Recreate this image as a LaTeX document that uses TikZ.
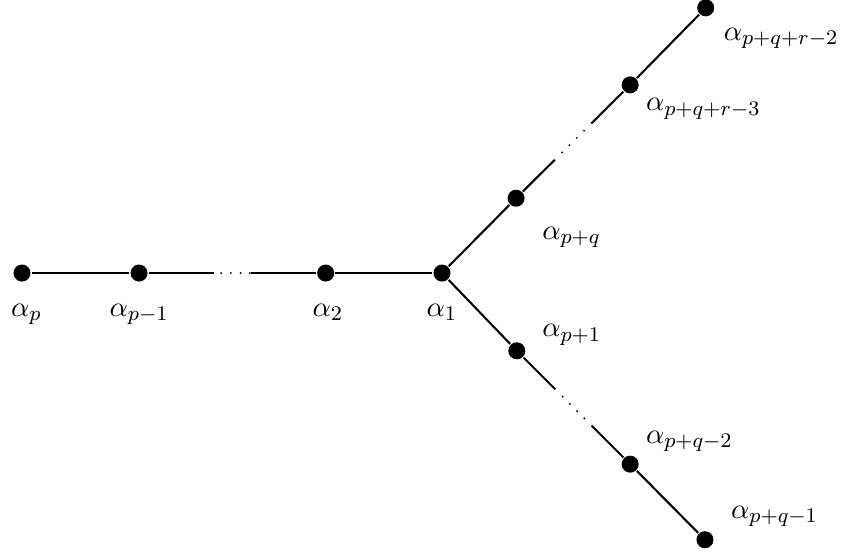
\documentclass[tikz,border=0pt]{standalone}
\usetikzlibrary{calc}
\tikzset{
  every picture/.style={line width=0.8pt},
  vertex/.style={circle, fill=black, inner sep=0pt, minimum size=0.23cm},
  root/.style={anchor=base west, inner sep=0pt, font=\fontsize{11}{13}\selectfont},
  gapdot/.style={fill=black},
}
\begin{document}
\begin{tikzpicture}
  \useasboundingbox (-5.967,-3.753) rectangle (5.40,3.686);
  % the long arm
  \node[vertex] (ap) at (-5.67,0) {};
  \node[vertex] (apm) at (-4.09,0) {};
  \node[vertex] (atwo) at (-1.57,0) {};
  \node[vertex] (aone) at (0,0) {};
  % upper arm
  \node[vertex] (apq) at (1.00,1.01) {};
  \node[vertex] (apqrb) at (2.54,2.54) {};
  \node[vertex] (apqra) at (3.56,3.58) {};
  % lower arm
  \node[vertex] (apone) at (1.01,-1.05) {};
  \node[vertex] (apqb) at (2.54,-2.58) {};
  \node[vertex] (apqa) at (3.55,-3.60) {};
  % where the dots go
  \coordinate (hs) at ($(apm)!0.40!(atwo)$);
  \coordinate (he) at ($(apm)!0.60!(atwo)$);
  \coordinate (us) at ($(apq)!0.34!(apqrb)$);
  \coordinate (ue) at ($(apq)!0.66!(apqrb)$);
  \coordinate (ls) at ($(apone)!0.34!(apqb)$);
  \coordinate (le) at ($(apone)!0.66!(apqb)$);
  \draw (ap) -- (apm) -- (hs);
  \draw (he) -- (atwo) -- (aone);
  \draw (aone) -- (apq) -- (us);
  \draw (ue) -- (apqrb) -- (apqra);
  \draw (aone) -- (apone) -- (ls);
  \draw (le) -- (apqb) -- (apqa);
  \foreach \t in {0.2,0.46,0.72,0.97}
    \fill[gapdot] ($(hs)!\t!(he)$) circle (0.4pt);
  \foreach \t in {0.2,0.4,0.6,0.8} {
    \fill[gapdot] ($(us)!\t!(ue)$) circle (0.4pt);
    \fill[gapdot] ($(ls)!\t!(le)$) circle (0.4pt);
  }
  % labels
  \node[root] (lp) at (-5.83,-0.58) {$\alpha_p$};
  \node[root] (lpm) at (-4.50,-0.58) {$\alpha_{p-1}$};
  \node[root] (ltwo) at (-1.76,-0.58) {$\alpha_2$};
  \node[root] (lone) at (-0.22,-0.58) {$\alpha_1$};
  \node[root] (lpq) at (1.34,0.45) {$\alpha_{p+q}$};
  \node[root] (lpqrb) at (2.74,2.19) {$\alpha_{p+q+r-3}$};
  \node[root] (lpqra) at (3.79,3.14) {$\alpha_{p+q+r-2}$};
  \node[root] (lpone) at (1.34,-0.86) {$\alpha_{p+1}$};
  \node[root] (lpqb) at (2.74,-2.30) {$\alpha_{p+q-2}$};
  \node[root] (lpqa) at (3.89,-3.31) {$\alpha_{p+q-1}$};
\end{tikzpicture}
\end{document}
